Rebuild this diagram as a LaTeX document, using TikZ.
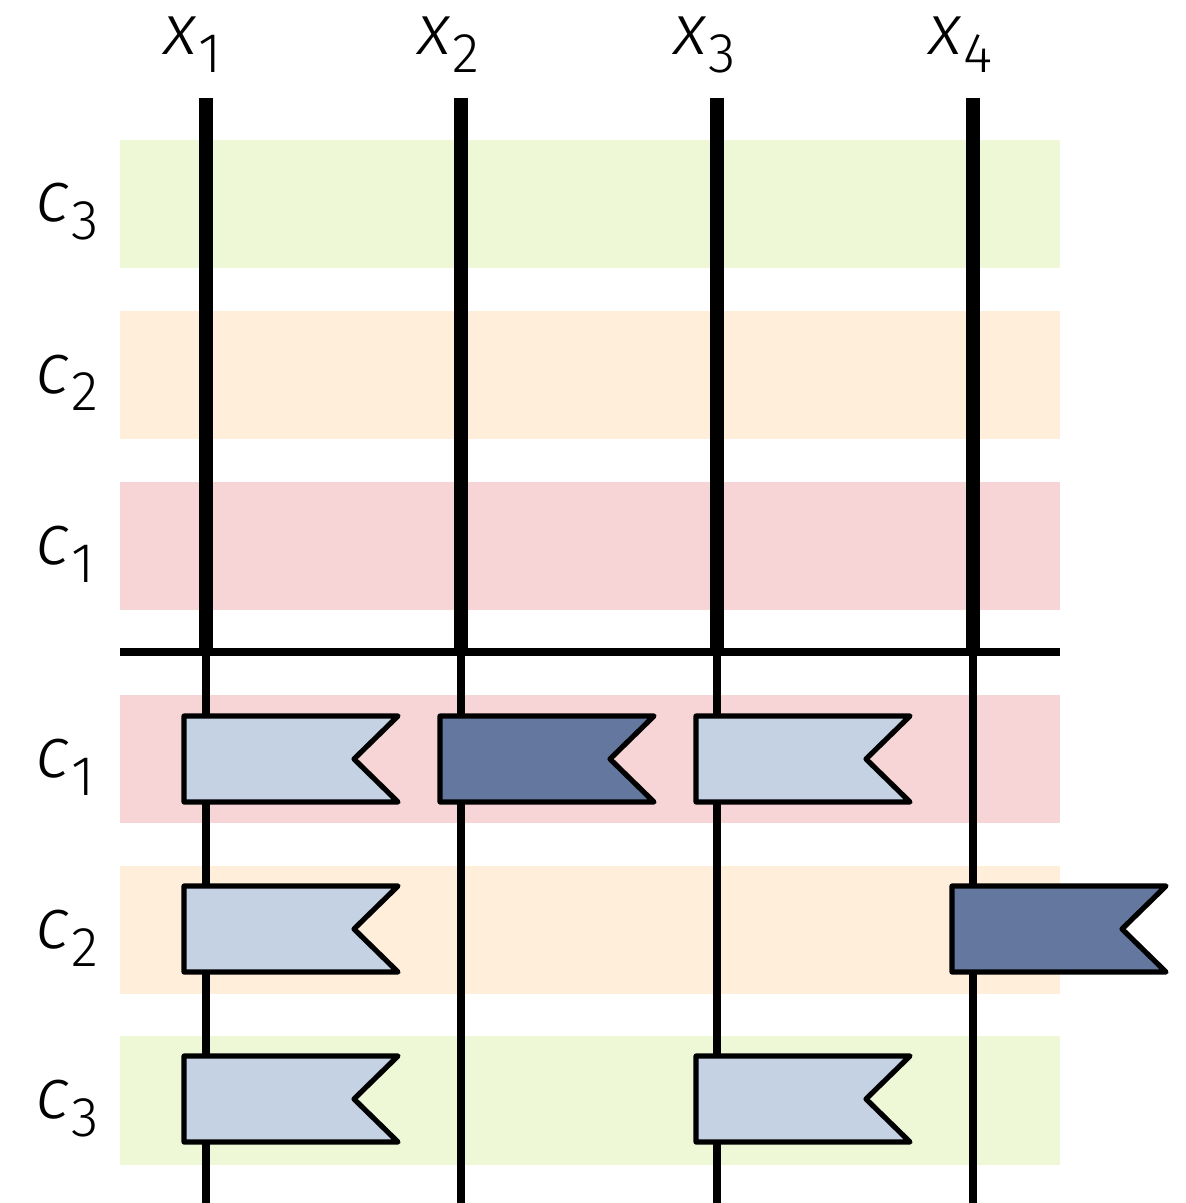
\documentclass[tikz,border=0pt]{standalone}
\usepackage{fontspec}
\setmainfont{Fira Sans Light}
\newfontfamily\slfont[FakeSlant=0.12]{Fira Sans Light}
\definecolor{bandgreen}{HTML}{EEF7D6}
\definecolor{bandorange}{HTML}{FFEEDA}
\definecolor{bandred}{HTML}{F7D4D5}
\definecolor{flaglight}{HTML}{C5D2E3}
\definecolor{flagdark}{HTML}{64789F}
\newcommand{\lbl}[2]{{\fontsize{36}{40}\selectfont{\slfont #1}\kern2pt\raisebox{-9pt}{\fontsize{28}{30}\selectfont #2}}}
\tikzset{
  band/.style={fill=#1, draw=none},
  thickwire/.style={line width=7pt},
  thinwire/.style={line width=4pt},
  sepline/.style={line width=4pt},
  flagshape/.style={fill=#1, draw=black, line width=2.6pt, line join=round},
  flagshape/.default=flaglight,
  lab/.style={inner sep=0pt, anchor=base west},
  pics/flag/.style={code={
    \draw[flagshape=#1] (0,0) -- (214,0) -- (170,43) -- (214,86) -- (0,86) -- cycle;
  }}
}
\begin{document}
\begin{tikzpicture}[x=0.5pt,y=-0.5pt]
\useasboundingbox (0,0) rectangle (1186,1203);
% bands
\fill[band=bandgreen]  (120,140) rectangle (1060,268);
\fill[band=bandorange] (120,311) rectangle (1060,439);
\fill[band=bandred]    (120,482) rectangle (1060,610);
\fill[band=bandred]    (120,695) rectangle (1060,823);
\fill[band=bandorange] (120,866) rectangle (1060,994);
\fill[band=bandgreen]  (120,1036) rectangle (1060,1165);
% wires
\foreach \n/\x in {1/206,2/461,3/717,4/973}{
  \coordinate (t\n) at (\x,98);
  \coordinate (m\n) at (\x,652);
  \coordinate (b\n) at (\x,1203);
  \draw[thickwire] (t\n) -- (m\n);
  \draw[thinwire] (m\n) -- (b\n);
}
\coordinate (sl) at (120,652);
\coordinate (sr) at (1060,652);
\draw[sepline] (sl) -- (sr);
% labels
\node[lab] (lx1) at (161,55) {\lbl{x}{1}};
\node[lab] (lx2) at (415,55) {\lbl{x}{2}};
\node[lab] (lx3) at (671,55) {\lbl{x}{3}};
\node[lab] (lx4) at (926,55) {\lbl{x}{4}};
\node[lab] (lc3a) at (33,222) {\lbl{c}{3}};
\node[lab] (lc2a) at (33,393) {\lbl{c}{2}};
\node[lab] (lc1a) at (33,564) {\lbl{c}{1}};
\node[lab] (lc1b) at (33,777) {\lbl{c}{1}};
\node[lab] (lc2b) at (33,948) {\lbl{c}{2}};
\node[lab] (lc3b) at (33,1118) {\lbl{c}{3}};
% flags
\pic at (184,716) {flag=flaglight};
\pic at (440,716) {flag=flagdark};
\pic at (696,716) {flag=flaglight};
\pic at (184,886) {flag=flaglight};
\pic at (952,886) {flag=flagdark};
\pic at (184,1056) {flag=flaglight};
\pic at (696,1056) {flag=flaglight};
\end{tikzpicture}
\end{document}
